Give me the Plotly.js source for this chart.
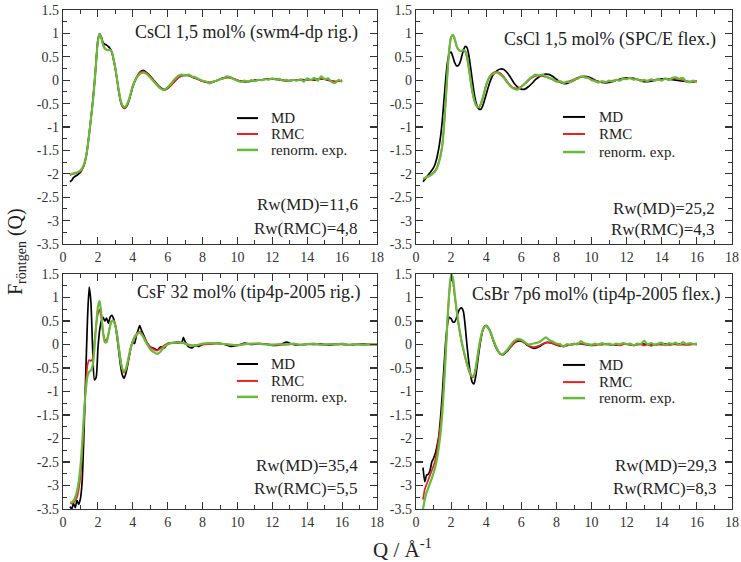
<!DOCTYPE html>
<html>
<head>
<meta charset="utf-8">
<script src="https://cdn.plot.ly/plotly-3.0.1.min.js"></script>
<style>html,body{margin:0;padding:0;background:#fff;}#chart{width:741px;height:562px;}</style>
</head>
<body>
<div id="chart"></div>
<script>
// ---------- data ----------
const seriesNames = ["MD", "RMC", "renorm. exp."];
const panelTitles = ["CsCl 1,5 mol% (swm4-dp rig.)", "CsCl 1,5 mol% (SPC/E flex.)", "CsF 32 mol% (tip4p-2005 rig.)", "CsBr 7p6 mol% (tip4p-2005 flex.)"];
const rwMD = ["Rw(MD)=11,6", "Rw(MD)=25,2", "Rw(MD)=35,4", "Rw(MD)=29,3"];
const rwRMC = ["Rw(RMC)=4,8", "Rw(RMC)=4,3", "Rw(RMC)=5,5", "Rw(RMC)=8,3"];
const xTickVals = [0, 2, 4, 6, 8, 10, 12, 14, 16, 18];
const xTickText = ["0", "2", "4", "6", "8", "10", "12", "14", "16", "18"];
const yTickVals = [-3.5, -3, -2.5, -2, -1.5, -1, -0.5, 0, 0.5, 1, 1.5];
const yTickText = ["-3.5", "-3", "-2.5", "-2", "-1.5", "-1", "-0.5", "0", "0.5", "1", "1.5"];

// Q grid for panels 1 and 2
const qA = [0.4,0.5,0.6,0.8,
 1.0,1.1,1.2,1.3,1.4,1.5,1.6,1.7,1.8,1.9,
 2.0,2.1,2.2,2.3,2.4,2.5,2.6,2.7,2.8,2.9,
 3.0,3.1,3.2,3.3,3.4,3.5,3.6,3.7,3.8,3.9,
 4.0,
 4.2,4.4,4.6,4.8,
 5.0,5.2,5.4,5.6,5.8,
 6.0,6.2,6.4,6.6,6.8,
 7.0,7.2,7.4,7.6,7.8,
 8.0,8.2,8.4,8.6,8.8,
 9.0,9.2,9.4,9.6,9.8,
 10.0,10.2,10.4,10.6,10.8,
 11.0,11.2,11.4,11.6,11.8,
 12.0,12.2,12.4,12.6,12.8,
 13.0,13.2,13.4,13.6,13.8,
 14.0,14.2,14.4,14.6,14.8,
 15.0,15.2,15.4,15.6,15.8,
 16.0];

// Panel 1: CsCl swm4-dp
const p1MD = [-2.17,-2.14,-2.08,-2.03,
 -1.97,-1.9,-1.82,-1.68,-1.45,-1.15,-0.82,-0.48,-0.08,0.4,
 0.85,0.99,0.92,0.8,0.77,0.75,0.72,0.68,0.6,0.43,
 0.25,0.0,-0.25,-0.45,-0.56,-0.6,-0.58,-0.52,-0.42,-0.28,
 -0.14,
 0.04,0.17,0.21,0.16,
 0.09,0.0,-0.09,-0.16,-0.2,
 -0.17,-0.1,-0.02,0.05,0.1,
 0.11,0.1,0.07,0.04,0.01,
 -0.02,-0.04,-0.05,-0.04,-0.01,
 0.02,0.05,0.06,0.06,0.03,
 0.0,-0.02,-0.03,-0.03,-0.02,
 0.0,0.0,0.01,0.02,0.03,
 0.03,0.02,0.01,0.0,-0.01,
 -0.01,0.0,0.0,0.01,0.01,
 0.01,0.01,0.0,0.02,0.03,
 0.02,0.0,-0.02,-0.03,-0.02,
 -0.01];
const p1RMC = [-2.03,-2.01,-2.0,-1.98,
 -1.95,-1.9,-1.82,-1.68,-1.45,-1.15,-0.82,-0.48,-0.08,0.4,
 0.85,0.99,0.9,0.76,0.68,0.65,0.64,0.64,0.6,0.45,
 0.26,0.01,-0.24,-0.44,-0.56,-0.6,-0.58,-0.5,-0.4,-0.26,
 -0.12,
 0.05,0.16,0.19,0.15,
 0.08,-0.01,-0.1,-0.17,-0.21,
 -0.18,-0.11,-0.03,0.05,0.09,
 0.1,0.1,0.07,0.04,0.01,
 -0.02,-0.04,-0.05,-0.04,-0.01,
 0.02,0.04,0.06,0.05,0.03,
 0.0,-0.02,-0.03,-0.03,-0.02,
 -0.01,0.0,0.01,0.02,0.03,
 0.03,0.03,0.01,0.0,-0.01,
 -0.01,0.0,0.0,0.01,0.0,
 0.01,0.0,0.01,0.02,0.04,
 0.02,0.01,-0.02,-0.03,-0.02,
 0.0];
const p1Exp = [-2.02,-2.0,-1.99,-1.97,
 -1.93,-1.88,-1.8,-1.67,-1.45,-1.15,-0.83,-0.5,-0.1,0.38,
 0.84,0.99,0.9,0.75,0.67,0.65,0.64,0.65,0.6,0.45,
 0.26,0.02,-0.22,-0.42,-0.53,-0.57,-0.56,-0.49,-0.39,-0.26,
 -0.12,
 0.04,0.13,0.16,0.13,
 0.06,-0.03,-0.11,-0.18,-0.21,
 -0.15,-0.07,0.02,0.09,0.12,
 0.1,0.12,0.08,0.06,0.02,
 -0.01,-0.03,-0.07,-0.03,-0.01,
 0.02,0.04,0.08,0.06,0.02,
 -0.01,-0.04,-0.01,-0.03,0.0,
 -0.02,0.01,0.0,0.02,0.01,
 0.04,0.01,0.03,-0.01,0.01,
 -0.02,0.01,-0.01,0.02,-0.03,
 0.04,0.0,0.05,-0.01,0.08,
 0.02,0.04,-0.04,-0.06,0.01,
 -0.04];

// Panel 2: CsCl SPC/E
const p2MD = [-2.17,-2.12,-2.07,-1.98,
 -1.87,-1.78,-1.64,-1.45,-1.2,-0.85,-0.4,0.05,0.4,0.57,
 0.6,0.5,0.38,0.31,0.31,0.37,0.5,0.64,0.72,0.7,
 0.55,0.3,0.02,-0.25,-0.45,-0.57,-0.62,-0.62,-0.55,-0.43,
 -0.3,
 -0.05,0.12,0.2,0.24,
 0.23,0.16,0.05,-0.07,-0.15,
 -0.19,-0.19,-0.14,-0.07,0.01,
 0.07,0.11,0.13,0.12,0.08,
 0.02,-0.04,-0.07,-0.07,-0.04,
 0.0,0.04,0.07,0.08,0.07,
 0.04,0.0,-0.03,-0.05,-0.06,
 -0.05,-0.03,0.0,0.02,0.04,
 0.05,0.05,0.04,0.02,-0.01,
 -0.03,-0.03,-0.02,0.0,0.02,
 0.03,0.03,0.02,0.01,0.0,
 -0.01,-0.02,-0.03,-0.03,-0.03,
 -0.02];
const p2RMC = [-2.12,-2.1,-2.07,-2.03,
 -1.97,-1.93,-1.86,-1.75,-1.6,-1.38,-0.95,-0.38,0.22,0.68,
 0.92,0.96,0.88,0.74,0.66,0.63,0.63,0.64,0.62,0.5,
 0.28,0.02,-0.22,-0.4,-0.52,-0.57,-0.57,-0.5,-0.38,-0.24,
 -0.1,
 0.08,0.16,0.18,0.15,
 0.07,-0.03,-0.12,-0.17,-0.17,
 -0.14,-0.08,-0.01,0.05,0.09,
 0.1,0.09,0.07,0.04,0.01,
 -0.02,-0.04,-0.05,-0.04,-0.01,
 0.02,0.05,0.07,0.07,0.05,
 0.02,-0.01,-0.03,-0.04,-0.04,
 -0.03,-0.01,0.0,0.01,0.03,
 0.04,0.04,0.03,0.01,0.0,
 -0.01,-0.01,0.0,0.01,0.01,
 0.01,0.02,0.02,0.03,0.04,
 0.02,0.0,-0.02,-0.04,-0.04,
 -0.02];
const p2Exp = [-2.1,-2.09,-2.07,-2.04,
 -1.98,-1.94,-1.87,-1.76,-1.61,-1.39,-0.96,-0.4,0.2,0.67,
 0.92,0.97,0.89,0.75,0.66,0.63,0.63,0.64,0.62,0.5,
 0.28,0.02,-0.22,-0.4,-0.52,-0.57,-0.57,-0.5,-0.38,-0.24,
 -0.1,
 0.07,0.14,0.16,0.12,
 0.05,-0.05,-0.14,-0.19,-0.2,
 -0.14,-0.07,0.01,0.07,0.12,
 0.1,0.12,0.08,0.05,0.02,
 -0.03,-0.02,-0.06,-0.03,-0.04,
 0.01,0.03,0.08,0.06,0.05,
 0.0,-0.02,-0.05,-0.02,-0.04,
 -0.01,-0.03,0.01,-0.01,0.03,
 0.02,0.05,0.01,0.03,-0.02,
 0.01,-0.02,0.02,-0.01,0.03,
 -0.01,0.04,0.0,0.05,0.06,
 0.03,0.05,-0.03,-0.04,-0.01,
 -0.04];

// Panel 3: CsF 32 mol%
const qC = [0.4,0.5,0.6,0.7,0.8,0.9,
 1.0,1.1,1.2,1.3,1.4,1.5,1.6,1.7,1.8,1.9,
 2.0,2.1,2.2,2.3,2.4,2.5,2.6,2.7,2.8,2.9,
 3.0,3.1,3.2,3.3,3.4,3.5,3.6,3.7,3.8,3.9,
 4.0,4.1,4.2,4.3,4.4,4.5,4.6,
 4.8,5.0,5.2,5.4,5.6,5.8,6.0,6.2,6.4,6.6,6.8,
 6.9,7.0,
 7.2,7.4,7.6,7.8,8.0,
 8.4,8.8,9.2,9.6,10.0,10.4,10.8,11.2,11.6,12.0,12.4,12.8,13.2,13.6,14.0,14.4,14.8,15.2,15.6,16.0,16.4,16.8,17.2,17.6,18.0];
const p3MD = [-3.45,-3.5,-3.38,-3.47,-3.32,-3.4,
 -3.28,-2.9,-1.9,-0.7,0.5,1.22,0.9,-0.1,-0.75,-0.7,
 -0.1,0.3,0.5,0.58,0.5,0.56,0.45,0.58,0.62,0.55,
 0.4,0.15,-0.15,-0.45,-0.65,-0.72,-0.62,-0.45,-0.25,-0.05,
 0.05,0.02,0.18,0.3,0.4,0.3,0.22,
 0.05,-0.05,-0.08,-0.12,-0.05,-0.08,0.02,0.03,0.04,0.06,0.03,
 0.15,0.06,
 -0.05,-0.07,-0.02,-0.04,0.0,
 0.02,0.03,0.01,-0.04,-0.02,0.03,0.0,0.02,0.01,-0.02,-0.01,0.05,0.0,-0.01,0.01,0.0,0.01,-0.01,0.0,0.01,-0.01,0.0,0.01,0.0,0.0];
const p3RMC = [-3.38,-3.38,-3.36,-3.32,-3.25,-3.08,
 -2.8,-2.3,-1.6,-0.9,-0.45,-0.33,-0.35,-0.3,0.05,0.4,
 0.65,0.75,0.55,0.25,0.1,0.1,0.22,0.4,0.5,0.5,
 0.42,0.22,-0.05,-0.32,-0.52,-0.6,-0.55,-0.4,-0.22,-0.05,
 0.08,0.16,0.22,0.26,0.27,0.24,0.18,
 0.05,-0.05,-0.1,-0.13,-0.08,-0.02,0.02,0.03,0.04,0.03,0.04,
 0.03,0.02,
 0.0,-0.02,-0.02,-0.01,0.0,
 0.01,0.02,0.01,-0.01,-0.01,0.0,0.01,0.02,0.01,0.0,-0.01,0.0,0.01,0.0,0.0,0.01,0.0,0.0,0.01,0.0,0.0,0.01,0.0,0.0,0.0];
const p3Exp = [-3.36,-3.36,-3.33,-3.25,-3.12,-2.92,
 -2.6,-2.1,-1.5,-1.0,-0.68,-0.58,-0.55,-0.45,-0.1,0.4,
 0.8,0.93,0.65,0.25,0.05,0.05,0.2,0.4,0.5,0.5,
 0.4,0.2,-0.08,-0.35,-0.52,-0.58,-0.52,-0.38,-0.2,-0.05,
 0.06,0.14,0.2,0.24,0.25,0.22,0.16,
 0.02,-0.1,-0.16,-0.2,-0.15,-0.05,0.0,0.03,0.04,0.05,0.03,
 0.04,0.02,
 -0.01,-0.03,-0.02,0.0,0.02,
 0.03,0.03,0.01,0.0,-0.02,0.01,0.02,0.02,0.0,-0.01,0.01,0.0,0.02,-0.01,0.01,0.02,-0.01,0.01,0.0,0.02,-0.01,0.01,-0.01,0.01,0.0];

// Panel 4: CsBr 7p6 mol%
const qD = [0.4,0.5,0.6,0.7,0.8,0.9,
 1.0,1.1,1.2,1.3,1.4,1.5,1.6,1.7,1.8,1.9,
 2.0,2.1,2.2,2.3,2.4,2.5,2.6,2.7,2.8,2.9,
 3.0,3.1,3.2,3.3,3.4,3.5,3.6,3.7,3.8,3.9,
 4.0,
 4.2,4.4,4.6,4.8,
 5.0,5.2,5.4,5.6,5.8,
 6.0,6.2,6.4,6.6,6.8,
 7.0,7.2,7.4,7.6,7.8,
 8.0,8.2,8.4,8.6,8.8,
 9.0,9.2,9.4,9.6,9.8,
 10.0,10.2,10.4,10.6,10.8,
 11.0,11.2,11.4,11.6,11.8,
 12.0,12.2,12.4,12.6,12.8,
 13.0,13.2,13.4,13.6,13.8,
 14.0,14.2,14.4,14.6,14.8,
 15.0,15.2,15.4,15.6,15.8,
 16.0];
const p4MD = [-2.62,-2.92,-2.78,-2.76,-2.68,-2.5,
 -2.42,-2.32,-2.15,-1.95,-1.55,-1.05,-0.45,0.1,0.45,0.58,
 0.55,0.48,0.48,0.56,0.68,0.76,0.78,0.7,0.4,0.0,
 -0.35,-0.62,-0.8,-0.84,-0.68,-0.4,-0.12,0.12,0.3,0.38,
 0.4,
 0.3,0.08,-0.1,-0.2,
 -0.21,-0.14,-0.05,0.03,0.07,
 0.07,0.03,-0.03,-0.07,-0.08,
 -0.05,0.0,0.04,0.04,0.02,
 -0.01,-0.03,-0.03,-0.02,0.0,
 0.01,0.02,0.01,0.0,-0.01,
 -0.02,-0.01,0.0,0.01,0.01,
 0.0,-0.01,-0.01,0.0,0.01,
 0.01,0.0,-0.01,0.0,0.01,
 0.01,0.0,0.0,-0.01,0.0,
 0.01,0.01,0.0,0.0,0.01,
 0.01,0.0,0.0,0.0,0.01,
 0.0];
const p4RMC = [-3.3,-3.08,-2.98,-2.88,-2.78,-2.68,
 -2.58,-2.45,-2.25,-1.98,-1.7,-1.3,-0.75,-0.1,0.55,1.1,
 1.45,1.35,1.05,0.75,0.48,0.25,0.05,-0.12,-0.28,-0.42,
 -0.55,-0.64,-0.7,-0.68,-0.52,-0.28,-0.04,0.16,0.3,0.38,
 0.4,
 0.3,0.1,-0.08,-0.2,
 -0.2,-0.13,-0.04,0.04,0.09,
 0.08,0.03,-0.02,-0.05,-0.05,
 -0.03,0.01,0.04,0.04,0.02,
 -0.01,-0.02,-0.03,-0.02,-0.01,
 0.0,0.02,0.01,0.02,-0.01,
 0.0,-0.02,0.0,-0.01,0.01,
 0.0,-0.01,0.0,-0.02,0.0,
 0.01,-0.01,-0.02,0.0,0.0,
 -0.02,0.0,-0.03,0.0,0.01,
 -0.01,0.0,-0.01,0.01,0.0,
 -0.01,0.0,-0.01,0.0,0.01,
 0.0];
const p4Exp = [-3.5,-3.3,-3.15,-3.05,-2.95,-2.85,
 -2.73,-2.6,-2.42,-2.18,-1.88,-1.45,-0.85,-0.15,0.55,1.15,
 1.5,1.42,1.1,0.78,0.5,0.27,0.07,-0.1,-0.26,-0.4,
 -0.52,-0.62,-0.68,-0.66,-0.5,-0.26,-0.02,0.17,0.31,0.38,
 0.39,
 0.3,0.1,-0.08,-0.2,
 -0.19,-0.11,-0.01,0.08,0.12,
 0.1,0.05,0.0,0.01,0.03,
 0.05,0.1,0.15,0.09,0.06,
 0.02,0.01,-0.05,0.01,-0.01,
 0.02,0.0,0.07,0.02,0.01,
 -0.01,0.02,-0.01,0.03,0.0,
 0.02,-0.01,0.02,0.0,0.03,
 0.01,0.02,-0.02,0.02,0.01,
 0.08,0.0,0.03,-0.01,0.02,
 0.04,-0.02,0.03,0.01,0.04,
 -0.01,0.05,0.01,0.03,0.01,
 0.02];

// ---------- styling ----------
const colors = ["#000000", "#e8231f", "#66bb3c"];
const widths = [1.7, 1.7, 2.2];
const FONT = "Liberation Serif";
const TXT = "#222";

const panels = [
  {q: qA, ys: [p1MD, p1RMC, p1Exp], xa: "x", ya: "y"},
  {q: qA, ys: [p2MD, p2RMC, p2Exp], xa: "x2", ya: "y2"},
  {q: qC, ys: [p3MD, p3RMC, p3Exp], xa: "x3", ya: "y3"},
  {q: qD, ys: [p4MD, p4RMC, p4Exp], xa: "x4", ya: "y4"}
];

const traces = [];
panels.forEach(p => {
  p.ys.forEach((y, i) => {
    traces.push({
      type: "scatter", mode: "lines", x: p.q, y: y,
      xaxis: p.xa, yaxis: p.ya, name: seriesNames[i], showlegend: false,
      line: {color: colors[i], width: widths[i], shape: "spline", smoothing: 0.6},
      cliponaxis: true, hoverinfo: "skip"
    });
  });
});

const W = 741, H = 562;
// pixel boxes of plot areas
const boxes = [
  {x0: 63, x1: 377, y0: 10, y1: 244},
  {x0: 416, x1: 732, y0: 10, y1: 244},
  {x0: 63, x1: 377, y0: 274, y1: 509},
  {x0: 416, x1: 732, y0: 274, y1: 509}
];

function xAxis(b, anchor) {
  return {
    domain: [b.x0 / W, b.x1 / W], anchor: anchor, range: [0, 18],
    tickmode: "array", tickvals: xTickVals, ticktext: xTickText,
    ticks: "inside", ticklen: 7, tickwidth: 1.2, tickcolor: "#333",
    minor: {ticks: "inside", ticklen: 4, tickwidth: 1, tickcolor: "#333", tickmode: "linear", tick0: 0, dtick: 1},
    showline: true, linecolor: "#333", linewidth: 1.3, mirror: "ticks",
    showgrid: false, zeroline: false,
    tickfont: {family: FONT, size: 14, color: "#333"}
  };
}
function yAxis(b, anchor) {
  return {
    domain: [1 - b.y1 / H, 1 - b.y0 / H], anchor: anchor, range: [-3.5, 1.5],
    tickmode: "array", tickvals: yTickVals, ticktext: yTickText,
    ticks: "inside", ticklen: 7, tickwidth: 1.2, tickcolor: "#333",
    minor: {ticks: "inside", ticklen: 4, tickwidth: 1, tickcolor: "#333", tickmode: "linear", tick0: 0, dtick: 0.25},
    showline: true, linecolor: "#333", linewidth: 1.3, mirror: "ticks",
    showgrid: false, zeroline: false,
    tickfont: {family: FONT, size: 14, color: "#333"}
  };
}

// annotation / legend placement in axis-domain units
const place = [
  {title: [0.946, 0.902], rw: [0.946, 0.167, 0.068], lx: [0.554, 0.621, 0.656], ly: [0.538, 0.470, 0.402]},
  {title: [0.956, 0.872], rw: [0.953, 0.150, 0.064], lx: [0.465, 0.535, 0.573], ly: [0.543, 0.470, 0.393]},
  {title: [0.955, 0.923], rw: [0.946, 0.183, 0.089], lx: [0.554, 0.621, 0.656], ly: [0.617, 0.545, 0.477]},
  {title: [0.968, 0.911], rw: [0.959, 0.183, 0.089], lx: [0.465, 0.535, 0.573], ly: [0.613, 0.540, 0.472]}
];

const annotations = [];
const shapes = [];
panels.forEach((p, k) => {
  const xr = p.xa + " domain", yr = p.ya + " domain";
  const pl = place[k];
  annotations.push({xref: xr, yref: yr, x: pl.title[0], y: pl.title[1], xanchor: "right", yanchor: "middle",
    text: panelTitles[k], showarrow: false, font: {family: FONT, size: 18, color: TXT}});
  annotations.push({xref: xr, yref: yr, x: pl.rw[0], y: pl.rw[1], xanchor: "right", yanchor: "middle",
    text: rwMD[k], showarrow: false, font: {family: FONT, size: 17, color: TXT}});
  annotations.push({xref: xr, yref: yr, x: pl.rw[0], y: pl.rw[2], xanchor: "right", yanchor: "middle",
    text: rwRMC[k], showarrow: false, font: {family: FONT, size: 17, color: TXT}});
  seriesNames.forEach((nm, i) => {
    shapes.push({type: "line", xref: xr, yref: yr, x0: pl.lx[0], x1: pl.lx[1], y0: pl.ly[i], y1: pl.ly[i],
      line: {color: colors[i], width: widths[i] + 0.3}});
    annotations.push({xref: xr, yref: yr, x: pl.lx[2], y: pl.ly[i], xanchor: "left", yanchor: "middle",
      text: nm, showarrow: false, font: {family: FONT, size: 15, color: TXT}});
  });
});

annotations.push({xref: "paper", yref: "paper", x: 16 / W, y: 1 - 252 / H, xanchor: "center", yanchor: "middle",
  textangle: -90, text: "F<sub>röntgen</sub> (Q)", showarrow: false, font: {family: FONT, size: 20, color: TXT}});
annotations.push({xref: "paper", yref: "paper", x: 402 / W, y: 1 - 548 / H, xanchor: "center", yanchor: "middle",
  text: "Q / Å<sup>-1</sup>", showarrow: false, font: {family: FONT, size: 21, color: TXT}});

const layout = {
  width: W, height: H,
  margin: {l: 0, r: 0, t: 0, b: 0},
  paper_bgcolor: "#fff", plot_bgcolor: "#fff",
  showlegend: false,
  font: {family: FONT},
  xaxis: xAxis(boxes[0], "y"), yaxis: yAxis(boxes[0], "x"),
  xaxis2: xAxis(boxes[1], "y2"), yaxis2: yAxis(boxes[1], "x2"),
  xaxis3: xAxis(boxes[2], "y3"), yaxis3: yAxis(boxes[2], "x3"),
  xaxis4: xAxis(boxes[3], "y4"), yaxis4: yAxis(boxes[3], "x4"),
  annotations: annotations, shapes: shapes
};

Plotly.newPlot("chart", traces, layout, {staticPlot: true, displayModeBar: false});
</script>
</body>
</html>
